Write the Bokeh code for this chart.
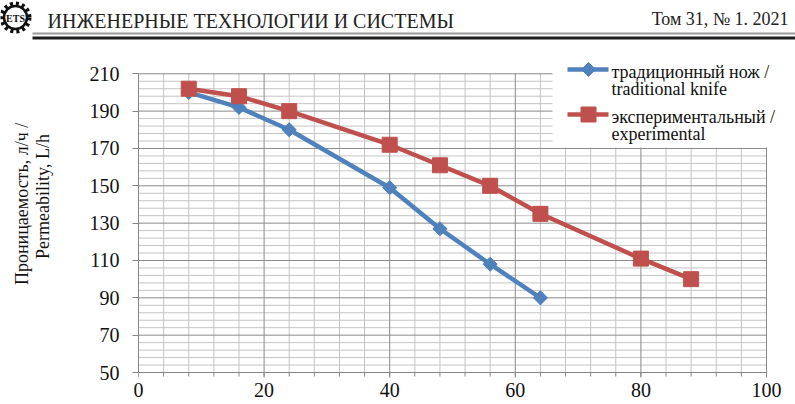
import math
from bokeh.plotting import figure
from bokeh.models import Range1d, FixedTicker
from bokeh.layouts import column, row
from bokeh.core.properties import value
from bokeh.embed import file_html
from bokeh.resources import INLINE

# ---------------- data ----------------
x_trad = [8, 16, 24, 40, 48, 56, 64]
y_trad = [200, 192, 180, 149, 127, 108, 90]
x_exp = [8, 16, 24, 40, 48, 56, 64, 80, 88]
y_exp = [202, 198, 190, 172, 161, 150, 135, 111, 100]

name_trad = ["традиционный нож /", "traditional knife"]
name_exp = ["экспериментальный /", "experimental"]
y_title = ["Проницаемость, л/ч /", "Permeability, L/h"]
header_left = "ИНЖЕНЕРНЫЕ ТЕХНОЛОГИИ И СИСТЕМЫ"
header_right = "Том 31, № 1. 2021"

x_ticks = list(range(0, 101, 20))
y_ticks = list(range(50, 211, 20))
x_minor = list(range(0, 101, 4))
y_minor = list(range(50, 211, 4))

BLUE = "#4F81BD"
RED = "#C0504D"
FONT = "Liberation Serif"
TXT = "#111111"
AXC = "#868686"

W, H = 795, 404
HH = 40          # header height
LW = 64          # y-title panel width
FB = 378         # bottom of the plotting frame (page px)

SX = 6.28      # px per x unit
SY = 1.8669    # px per y unit
X0PX, Y0PX = 138, 372


def px2x(px):
    return (px - X0PX) / SX


def py2y(py):
    return 50 + (Y0PX - py) / SY


# ---------------- header ----------------
hdr = figure(width=W, height=HH, x_range=Range1d(0, W), y_range=Range1d(HH, 0),
             x_axis_type=None, y_axis_type=None, toolbar_location=None,
             output_backend="svg", min_border=0)
hdr.outline_line_color = None
hdr.grid.visible = False
hdr.text(x=[47], y=[20], text=[header_left], text_font=value(FONT),
         text_font_size=value("20px"), text_color="#222222",
         text_align="left", text_baseline="middle")
hdr.text(x=[788], y=[18.5], text=[header_right], text_font=value(FONT),
         text_font_size=value("18px"), text_color="#222222",
         text_align="right", text_baseline="middle")
hdr.segment(x0=[32], y0=[33], x1=[W], y1=[33], line_color="#9a9a9a", line_width=2)
hdr.segment(x0=[32], y0=[37.5], x1=[W], y1=[37.5], line_color="#1e1e1e", line_width=3)
# logo (gear with ETS)
hdr.circle(x=[15], y=[17], radius=14, fill_color=None, line_color="#111111",
           line_width=4, line_dash="3 3")
hdr.circle(x=[15], y=[17], radius=11.5, fill_color="white", line_color="#111111",
           line_width=2.5)
hdr.text(x=[15], y=[17.5], text=["ETS"], text_font=value(FONT), text_font_style="bold",
         text_font_size=value("10px"), text_color="#111111",
         text_align="center", text_baseline="middle")

# ---------------- y title panel ----------------
ttl = figure(width=LW, height=H - HH, x_range=Range1d(0, LW), y_range=Range1d(H, HH),
             x_axis_type=None, y_axis_type=None, toolbar_location=None,
             output_backend="svg", min_border=0)
ttl.outline_line_color = None
ttl.grid.visible = False
ttl.text(x=[21, 42], y=[216, 208], text=y_title, angle=math.pi / 2,
         text_font=value(FONT), text_font_size=value("18px"), text_color=TXT,
         text_align="center", text_baseline="middle")

# ---------------- main chart ----------------
XMAX = px2x(W)
YMAX = py2y(HH)
YMIN = py2y(FB)

p = figure(width=W - LW, height=H - HH, x_range=Range1d(0, XMAX), y_range=Range1d(YMIN, YMAX),
           toolbar_location=None, output_backend="svg",
           min_border_left=X0PX - LW, min_border_right=0, min_border_top=0,
           min_border_bottom=H - FB)
p.outline_line_color = None
p.grid.visible = False
p.background_fill_color = "white"

# grid (minor then major)
minor_x = [v for v in x_minor if v not in x_ticks]
minor_y = [v for v in y_minor if v not in y_ticks]
p.segment(x0=minor_x, y0=[50] * len(minor_x), x1=minor_x, y1=[210] * len(minor_x),
          line_color="#c4c4c4", line_width=1)
p.segment(x0=[0] * len(minor_y), y0=minor_y, x1=[100] * len(minor_y), y1=minor_y,
          line_color="#c4c4c4", line_width=1)
p.segment(x0=x_ticks, y0=[50] * len(x_ticks), x1=x_ticks, y1=[210] * len(x_ticks),
          line_color="#8a8a8a", line_width=1)
p.segment(x0=[0] * len(y_ticks), y0=y_ticks, x1=[100] * len(y_ticks), y1=y_ticks,
          line_color="#8a8a8a", line_width=1)

# x axis line and ticks at y = 50
p.segment(x0=[0], y0=[50], x1=[100], y1=[50], line_color=AXC, line_width=1)
p.segment(x0=x_minor, y0=[50] * len(x_minor), x1=x_minor, y1=[py2y(Y0PX + 4)] * len(x_minor),
          line_color=AXC, line_width=1)
p.segment(x0=x_ticks, y0=[50] * len(x_ticks), x1=x_ticks, y1=[py2y(Y0PX + 5)] * len(x_ticks),
          line_color=AXC, line_width=1)

# legend box (white) covering the grid
p.quad(left=[px2x(552)], right=[XMAX], bottom=[py2y(147)], top=[YMAX],
       fill_color="white", line_color=None)

# series
p.line(x_trad, y_trad, line_color=BLUE, line_width=4.5)
p.scatter(x_trad, y_trad, marker="square", angle=math.pi / 4, size=10,
          fill_color=BLUE, line_color=BLUE)
p.line(x_exp, y_exp, line_color=RED, line_width=4.5)
p.scatter(x_exp, y_exp, marker="square", size=15, fill_color=RED, line_color=RED)

# legend entries
ly_b = py2y(69)
ly_r = py2y(114)
p.segment(x0=[px2x(567)], y0=[ly_b], x1=[px2x(608)], y1=[ly_b], line_color=BLUE, line_width=4.5)
p.scatter([px2x(588)], [ly_b], marker="square", angle=math.pi / 4, size=10,
          fill_color=BLUE, line_color=BLUE)
p.segment(x0=[px2x(567)], y0=[ly_r], x1=[px2x(608)], y1=[ly_r], line_color=RED, line_width=4.5)
p.scatter([px2x(588)], [ly_r], marker="square", size=15, fill_color=RED, line_color=RED)
p.text(x=[px2x(611)] * 4, y=[py2y(71), py2y(88.5), py2y(116), py2y(133.5)],
       text=name_trad + name_exp, text_font=value(FONT), text_font_size=value("18px"),
       text_color=TXT, text_align="left", text_baseline="middle")

# x axis: labels only (line and ticks drawn above at y = 50)
p.xaxis.ticker = FixedTicker(ticks=x_ticks, minor_ticks=[])
p.xaxis.bounds = (0, 100)
p.xaxis.axis_line_color = None
p.xaxis.major_tick_line_color = None
p.xaxis.minor_tick_line_color = None
p.xaxis.major_tick_in = 0
p.xaxis.major_tick_out = 0
p.xaxis.minor_tick_in = 0
p.xaxis.minor_tick_out = 0
p.xaxis.major_label_standoff = 4

# y axis
p.yaxis.ticker = FixedTicker(ticks=y_ticks, minor_ticks=[])
p.yaxis.bounds = (50, 210)
p.yaxis.axis_line_color = AXC
p.yaxis.major_tick_line_color = AXC
p.yaxis.major_tick_in = 0
p.yaxis.major_tick_out = 6
p.yaxis.minor_tick_out = 0
p.yaxis.minor_tick_in = 0
p.yaxis.major_label_standoff = 13

for ax in (p.xaxis, p.yaxis):
    ax.major_label_text_font = FONT
    ax.major_label_text_color = TXT
    ax.major_label_text_font_size = "20px"

layout = column(hdr, row(ttl, p, spacing=0), spacing=0)
open("out.html", "w").write(file_html(layout, INLINE))
